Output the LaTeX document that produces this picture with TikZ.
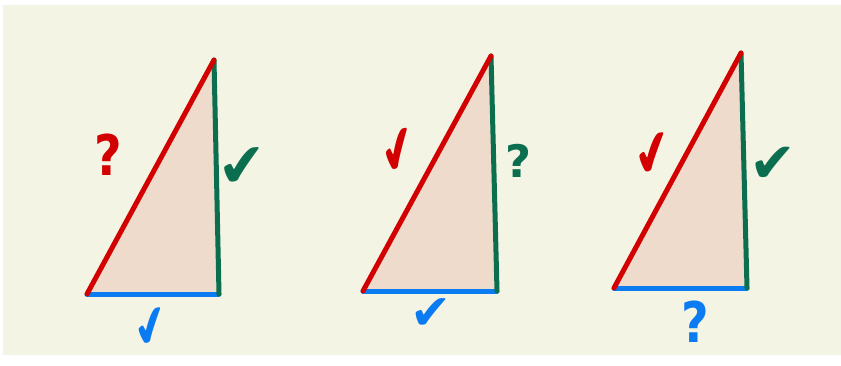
\documentclass[tikz,border=0pt]{standalone}
\usepackage{fontspec}
\newfontfamily\markfont{DejaVu Sans}
\definecolor{bgc}{HTML}{F4F4E4}
\definecolor{trif}{HTML}{EEDBCB}
\definecolor{redc}{HTML}{D20000}
\definecolor{greenc}{HTML}{0B6E4F}
\definecolor{bluec}{HTML}{0A7BF0}
\tikzset{
  trifill/.style={fill=trif},
  side/.style={line width=5pt, line cap=round},
  qmark/.style={inner sep=0pt, font=\markfont\bfseries\fontsize{56}{56}\selectfont},
  cmark/.style={inner sep=0pt, font=\markfont\fontsize{70}{70}\selectfont},
}
\begin{document}
\begin{tikzpicture}[x=1pt,y=-1pt]
\useasboundingbox (0,0) rectangle (841,365);
\fill[white] (0,0) rectangle (841,365);
\fill[bgc] (3,5) rectangle (841,355);
% triangle 1
\coordinate (a1) at (87,294);
\coordinate (b1) at (219,294);
\coordinate (c1) at (214,60);
\fill[trifill] (a1) -- (b1) -- (c1) -- cycle;
\draw[side, bluec] (a1) -- (b1);
\draw[side, greenc] (b1) -- (c1);
\draw[side, redc] (a1) -- (c1);
\node[qmark, text=redc, xscale=0.85] (h1) at (108,155) {?};
\node[cmark, text=greenc, rotate=5, scale=0.85] (l1) at (243,168) {✔};
\node[cmark, text=bluec, rotate=12, xscale=0.6, yscale=0.85] (s1) at (152,328) {✔};
% triangle 2
\coordinate (a2) at (363,291);
\coordinate (b2) at (497,291);
\coordinate (c2) at (491,56);
\fill[trifill] (a2) -- (b2) -- (c2) -- cycle;
\draw[side, bluec] (a2) -- (b2);
\draw[side, greenc] (b2) -- (c2);
\draw[side, redc] (a2) -- (c2);
\node[cmark, text=redc, rotate=12, xscale=0.6] (h2) at (399,152) {✔};
\node[qmark, text=greenc, scale=0.8] (l2) at (518,161) {?};
\node[cmark, text=bluec, scale=0.7] (s2) at (431,314) {✔};
% triangle 3
\coordinate (a3) at (614,288);
\coordinate (b3) at (747,288);
\coordinate (c3) at (741,53);
\fill[trifill] (a3) -- (b3) -- (c3) -- cycle;
\draw[side, bluec] (a3) -- (b3);
\draw[side, greenc] (b3) -- (c3);
\draw[side, redc] (a3) -- (c3);
\node[cmark, text=redc, rotate=10, xscale=0.65, yscale=0.95] (h3) at (654,156) {✔};
\node[cmark, text=greenc, scale=0.8] (l3) at (773,165) {✔};
\node[qmark, text=bluec, xscale=0.85] (s3) at (695,322) {?};
\end{tikzpicture}
\end{document}
